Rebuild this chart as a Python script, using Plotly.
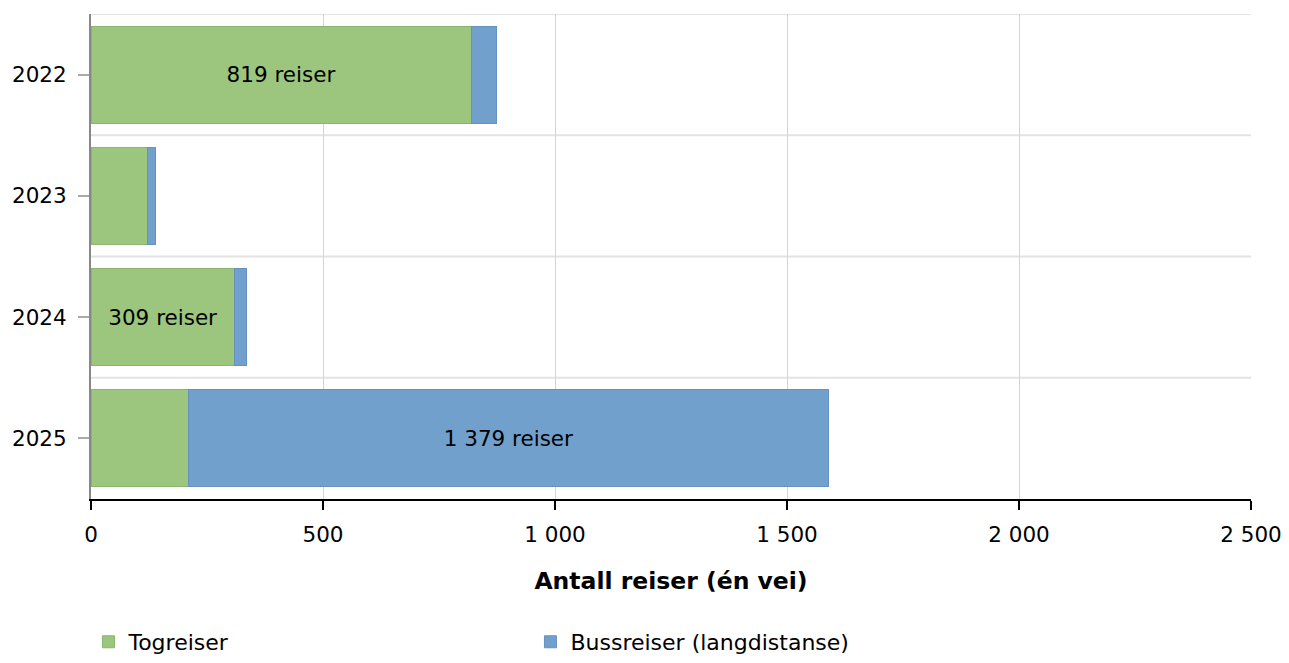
import plotly.graph_objects as go

# ---- data ----
years = ["2022", "2023", "2024", "2025"]
tog = [819, 121, 309, 210]
buss = [55, 17, 26, 1379]
# which segments carry a value label (as in the reference)
tog_label = [True, False, True, False]
buss_label = [False, False, False, True]
x_ticks = [0, 500, 1000, 1500, 2000, 2500]

GREEN = "#9CC57E"
BLUE = "#71A0CC"
FONT = "DejaVu Sans, Verdana, sans-serif"


def fmt(v):
    return f"{v:,}".replace(",", " ") + " reiser"


tog_text = [fmt(v) if s else "" for v, s in zip(tog, tog_label)]
buss_text = [fmt(v) if s else "" for v, s in zip(buss, buss_label)]

fig = go.Figure()
fig.add_trace(go.Bar(
    y=years, x=tog, orientation="h", name="Togreiser",
    marker=dict(color=GREEN, line=dict(color="#8CB46F", width=1)),
    text=tog_text, textposition="inside", insidetextanchor="middle",
    textangle=0, constraintext="none",
    textfont=dict(color="black", size=21.5, family=FONT),
    width=0.8,
))
fig.add_trace(go.Bar(
    y=years, x=buss, orientation="h", name="Bussreiser (langdistanse)",
    marker=dict(color=BLUE, line=dict(color="#6592BE", width=1)),
    text=buss_text, textposition="inside", insidetextanchor="middle",
    textangle=0, constraintext="none",
    textfont=dict(color="black", size=21.5, family=FONT),
    width=0.8,
))

# horizontal gridlines at category boundaries
n = len(years)
for i in range(n):
    fig.add_shape(type="line", xref="paper", x0=0, x1=1, yref="y",
                  y0=i - 0.5, y1=i - 0.5, layer="below",
                  line=dict(color="#E3E3E3", width=2))

fig.update_layout(
    barmode="stack",
    width=1273, height=647,
    margin=dict(l=83, r=30, t=6, b=156, autoexpand=False),
    plot_bgcolor="white", paper_bgcolor="white",
    separators=", ",
    font=dict(family=FONT, size=21.5, color="black"),
    showlegend=True,
    legend=dict(orientation="h", xref="container", x=0.0632, xanchor="left",
                yref="container", y=0.0526, yanchor="top",
                entrywidth=397, entrywidthmode="pixels",
                font=dict(size=22, family=FONT), traceorder="normal"),
    bargap=0.2,
)
fig.update_xaxes(
    range=[0, 2500], tickvals=x_ticks, tickformat=",d",
    showgrid=True, gridcolor="#D4D4D4", gridwidth=1, zeroline=False,
    showline=True, linecolor="black", linewidth=1.5,
    ticks="outside", ticklen=9, tickcolor="black", tickwidth=1.5,
    ticklabelstandoff=6, ticklabeloverflow="allow",
    tickfont=dict(size=21.5),
    title=dict(text="<b>Antall reiser (én vei)</b>", font=dict(size=23.5), standoff=27),
)
fig.update_yaxes(
    categoryorder="array", categoryarray=years, autorange=False,
    range=[n - 0.5, -0.5],
    showgrid=False, showline=True, linecolor="#888888", linewidth=2,
    ticks="outside", ticklen=11, tickcolor="#AAAAAA", tickwidth=2,
    ticklabelstandoff=7,
    tickfont=dict(size=21.5),
)

fig.write_html("out.html")
